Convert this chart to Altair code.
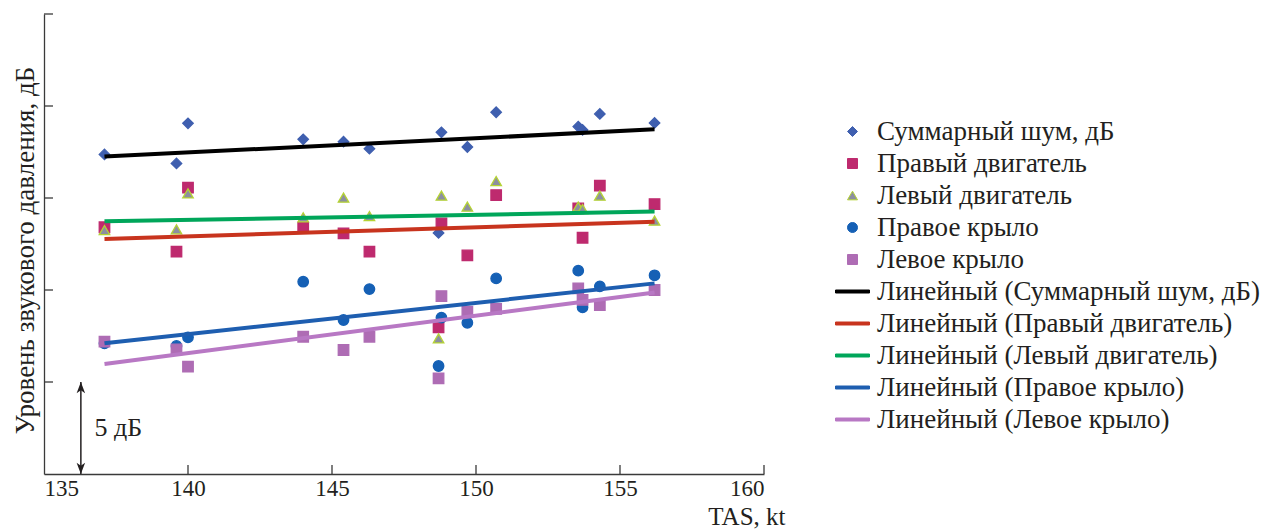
import altair as alt
import pandas as pd

# ---- data ----
tas = [137.1, 139.6, 140.0, 144.0, 145.4, 146.3, 148.7, 148.8, 149.7, 150.7, 153.55, 153.7, 154.3, 156.2]
total_noise = [17.37, 16.88, 19.06, 18.19, 18.06, 17.68, 13.1, 18.57, 17.77, 19.66, 18.88, 18.7, 19.57, 19.08]
right_engine = [13.41, 12.08, 15.56, 13.39, 13.08, 12.08, 7.97, 13.62, 11.88, 15.16, 14.44, 12.84, 15.67, 14.67]
left_engine = [13.26, 13.3, 15.25, 13.95, 15.02, 14.02, 7.37, 15.13, 14.53, 15.92, 14.53, 14.4, 15.13, 13.77]
right_wing = [7.1, 6.96, 7.43, 10.45, 8.37, 10.05, 5.87, 8.5, 8.22, 10.63, 11.05, 9.06, 10.2, 10.8]
left_wing = [7.19, 6.77, 5.83, 7.46, 6.74, 7.46, 5.2, 9.67, 8.82, 8.97, 10.09, 9.46, 9.18, 10.0]

series_names = ["Суммарный шум, дБ", "Правый двигатель", "Левый двигатель",
                "Правое крыло", "Левое крыло"]
trend_names = ["Линейный (Суммарный шум, дБ)", "Линейный (Правый двигатель)",
               "Линейный (Левый двигатель)", "Линейный (Правое крыло)",
               "Линейный (Левое крыло)"]
trend_x = [137.1, 156.2]
trend_start = [17.25, 12.77, 13.73, 7.1, 5.98]
trend_end = [18.73, 13.71, 14.26, 10.36, 9.87]

x_ticks = [135, 140, 145, 150, 155, 160]
y_ticks = [5, 10, 15, 20, 25]
scale_bar_x = 136.28
scale_bar_db = [0, 5]
scale_bar_label = "5 дБ"

# ---- tables ----
series_values = [total_noise, right_engine, left_engine, right_wing, left_wing]
rows = []
for name, vals in zip(series_names, series_values):
    for t, v in zip(tas, vals):
        rows.append({"tas": t, "value": v, "series": name})
points_df = pd.DataFrame(rows)

trend_rows = []
for name, a, b in zip(trend_names, trend_start, trend_end):
    trend_rows.append({"tas": trend_x[0], "value": a, "trend": name})
    trend_rows.append({"tas": trend_x[1], "value": b, "trend": name})
trend_df = pd.DataFrame(trend_rows)

ytick_df = pd.DataFrame({"v": y_ticks})
xtick_df = pd.DataFrame({"v": x_ticks[1:]})
bar_df = pd.DataFrame({"x": [scale_bar_x], "y0": [scale_bar_db[0]], "y1": [scale_bar_db[1]]})
top_df = pd.DataFrame({"x": [scale_bar_x], "y": [scale_bar_db[1]]})
bot_df = pd.DataFrame({"x": [scale_bar_x], "y": [scale_bar_db[0]]})
lab_df = pd.DataFrame({"x": [scale_bar_x + 0.47], "y": [sum(scale_bar_db) / 2], "t": [scale_bar_label]})

# ---- styles ----
FONT = "Liberation Serif"
INK = "#231F20"
legend_domain = series_names + trend_names
fill_colors = ["#3F5FAF", "#BE2A6E", "#8C8FA0", "#1560B5", "#AE6CB4",
               "#000000", "#C8341E", "#00A65A", "#1E5EB0", "#B878C4"]
stroke_colors = ["#3F5FAF", "#BE2A6E", "#B5D334", "#1560B5", "#AE6CB4",
                 "#000000", "#C8341E", "#00A65A", "#1E5EB0", "#B878C4"]
line_path = "M-3.4,-0.3H3.4V0.3H-3.4Z"
shapes = ["diamond", "square", "triangle-up", "circle", "square"] + [line_path] * 5

x_scale = alt.Scale(domain=[135, 160], nice=False, zero=False)
y_scale = alt.Scale(domain=[0, 25], nice=False, zero=False)

x_axis = alt.Axis(values=x_ticks, ticks=False, grid=False, labelFont=FONT, labelFontSize=23,
                  labelColor=INK, labelPadding=3, domainColor="#3a3a3a", domainWidth=1.3,
                  title="TAS, kt", titleFont=FONT, titleFontSize=25, titleFontWeight="normal",
                  titleColor=INK, titleX=741, titleY=50, titleAlign="right",
                  titleBaseline="alphabetic")
y_axis = alt.Axis(labels=False, ticks=False, grid=False, domainColor="#3a3a3a", domainWidth=1.3,
                  title="Уровень звукового давления, дБ", titleFont=FONT, titleFontSize=27,
                  titleFontWeight="normal", titleColor=INK, titleX=-11, titleY=236,
                  titleAngle=270, titleAlign="center", titleBaseline="alphabetic")

points = alt.Chart(points_df).mark_point(filled=True, size=110, strokeWidth=1.3, opacity=1).encode(
    x=alt.X("tas:Q", scale=x_scale, axis=x_axis),
    y=alt.Y("value:Q", scale=y_scale, axis=y_axis),
    color=alt.Color("series:N", scale=alt.Scale(domain=legend_domain, range=fill_colors), title=None),
    stroke=alt.Stroke("series:N", scale=alt.Scale(domain=legend_domain, range=stroke_colors), title=None),
    shape=alt.Shape("series:N", scale=alt.Scale(domain=legend_domain, range=shapes), title=None),
)

lines = alt.Chart(trend_df).mark_line(strokeWidth=4).encode(
    x=alt.X("tas:Q", scale=x_scale),
    y=alt.Y("value:Q", scale=y_scale),
    color=alt.Color("trend:N", scale=alt.Scale(domain=trend_names, range=fill_colors[5:]), legend=None),
)

yticks = alt.Chart(ytick_df).mark_rule(color="#3a3a3a", strokeWidth=1.3).encode(
    y=alt.Y("v:Q", scale=y_scale), x=alt.value(0), x2=alt.value(9))
xticks = alt.Chart(xtick_df).mark_rule(color="#3a3a3a", strokeWidth=1.3).encode(
    x=alt.X("v:Q", scale=x_scale), y=alt.value(460), y2=alt.value(451))

bar = alt.Chart(bar_df).mark_rule(color=INK, strokeWidth=1.5).encode(
    x=alt.X("x:Q", scale=x_scale), y=alt.Y("y0:Q", scale=y_scale), y2="y1:Q")
head_up = alt.Chart(top_df).mark_point(shape="M0,0L0.6,1.6L0,1.15L-0.6,1.6Z", filled=True,
                                        size=200, color=INK, opacity=1).encode(
    x=alt.X("x:Q", scale=x_scale), y=alt.Y("y:Q", scale=y_scale))
head_down = alt.Chart(bot_df).mark_point(shape="M0,0L0.6,-1.6L0,-1.15L-0.6,-1.6Z", filled=True,
                                          size=200, color=INK, opacity=1).encode(
    x=alt.X("x:Q", scale=x_scale), y=alt.Y("y:Q", scale=y_scale))
bar_text = alt.Chart(lab_df).mark_text(align="left", baseline="middle", font=FONT, fontSize=26,
                                        color=INK).encode(
    x=alt.X("x:Q", scale=x_scale), y=alt.Y("y:Q", scale=y_scale), text="t:N")

chart = alt.layer(points, lines, yticks, xticks, bar, head_up, head_down, bar_text).resolve_scale(
    color="independent", stroke="independent", shape="independent"
).properties(
    width=720, height=460,
    padding={"left": 36, "top": 6, "right": 506, "bottom": 56},
    autosize=alt.AutoSizeParams(type="none"),
).configure_view(strokeWidth=0).configure_legend(
    orient="none", legendX=795, legendY=104, padding=0,
    labelFont=FONT, labelFontSize=27, labelColor=INK, labelLimit=600,
    symbolSize=100, symbolStrokeWidth=1, symbolOpacity=1,
    rowPadding=4, labelOffset=11,
)

chart.save("out.html", embed_options={"renderer": "svg", "actions": False})
